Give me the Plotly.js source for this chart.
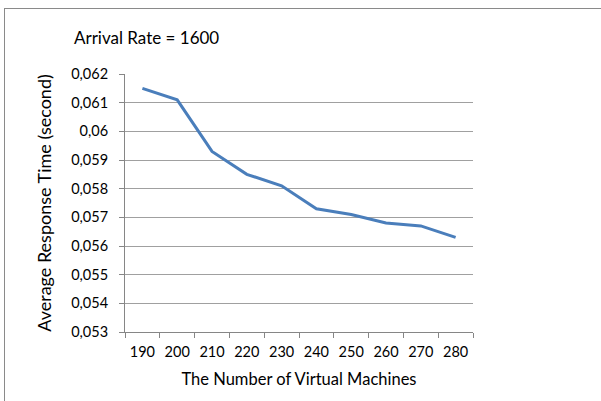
<!DOCTYPE html>
<html>
<head>
<meta charset="utf-8">
<script src="https://cdn.plot.ly/plotly-3.0.1.min.js"></script>
<style>
  html, body { margin: 0; padding: 0; background: #ffffff; }
  #chart { position: absolute; left: 0; top: 0; width: 601px; height: 401px; }
  #frame { position: absolute; left: 4px; top: 8px; width: 700px; height: 500px;
           border-top: 1px solid #8a8a8a; border-left: 1px solid #8a8a8a; pointer-events: none; }
</style>
</head>
<body>
<div id="chart"></div>
<div id="frame"></div>
<script>
const categories = ['190', '200', '210', '220', '230', '240', '250', '260', '270', '280'];
const responseTime = [0.0615, 0.0611, 0.0593, 0.0585, 0.0581, 0.0573, 0.0571, 0.0568, 0.0567, 0.0563];
const chartTitle = 'Arrival Rate = 1600';
const xTitle = 'The Number of Virtual Machines';
const yTitle = 'Average Response Time (second)';

const font = 'Lato, "Open Sans", sans-serif';

const trace = {
  type: 'scatter',
  mode: 'lines',
  x: categories,
  y: responseTime,
  line: { color: '#4a7ebb', width: 3 },
  hoverinfo: 'x+y'
};

const layout = {
  width: 601,
  height: 401,
  margin: { l: 125, r: 128, t: 74, b: 69 },
  paper_bgcolor: '#ffffff',
  plot_bgcolor: '#ffffff',
  separators: ', ',
  showlegend: false,
  font: { family: font, color: '#000000', size: 14 },
  title: {
    text: chartTitle,
    font: { family: font, size: 17, color: '#000000' },
    xref: 'container', yref: 'container',
    x: 74 / 601, xanchor: 'left',
    y: 1 - 38 / 401, yanchor: 'middle'
  },
  xaxis: {
    type: 'category',
    range: [-0.5, 9.5],
    showgrid: false,
    showline: true,
    linecolor: '#868686',
    linewidth: 1,
    ticks: 'outside',
    tickson: 'boundaries',
    ticklen: 5,
    tickcolor: '#868686',
    ticklabelstandoff: 7,
    tickfont: { family: font, size: 14.5, color: '#000000' },
    title: { text: xTitle, font: { family: font, size: 16.5, color: '#000000' }, standoff: 14 },
    zeroline: false,
    fixedrange: true
  },
  yaxis: {
    range: [0.053, 0.062],
    dtick: 0.001,
    tick0: 0.053,
    showgrid: true,
    gridcolor: '#a0a0a0',
    gridwidth: 1,
    showline: true,
    linecolor: '#868686',
    linewidth: 1,
    ticks: 'outside',
    ticklen: 5,
    tickcolor: '#868686',
    ticklabelstandoff: 8,
    tickfont: { family: font, size: 14.5, color: '#000000' },
    title: { text: yTitle, font: { family: font, size: 18, color: '#000000' }, standoff: 14 },
    zeroline: false,
    fixedrange: true
  }
};

Plotly.newPlot('chart', [trace], layout, { displayModeBar: false, staticPlot: true });
</script>
</body>
</html>
